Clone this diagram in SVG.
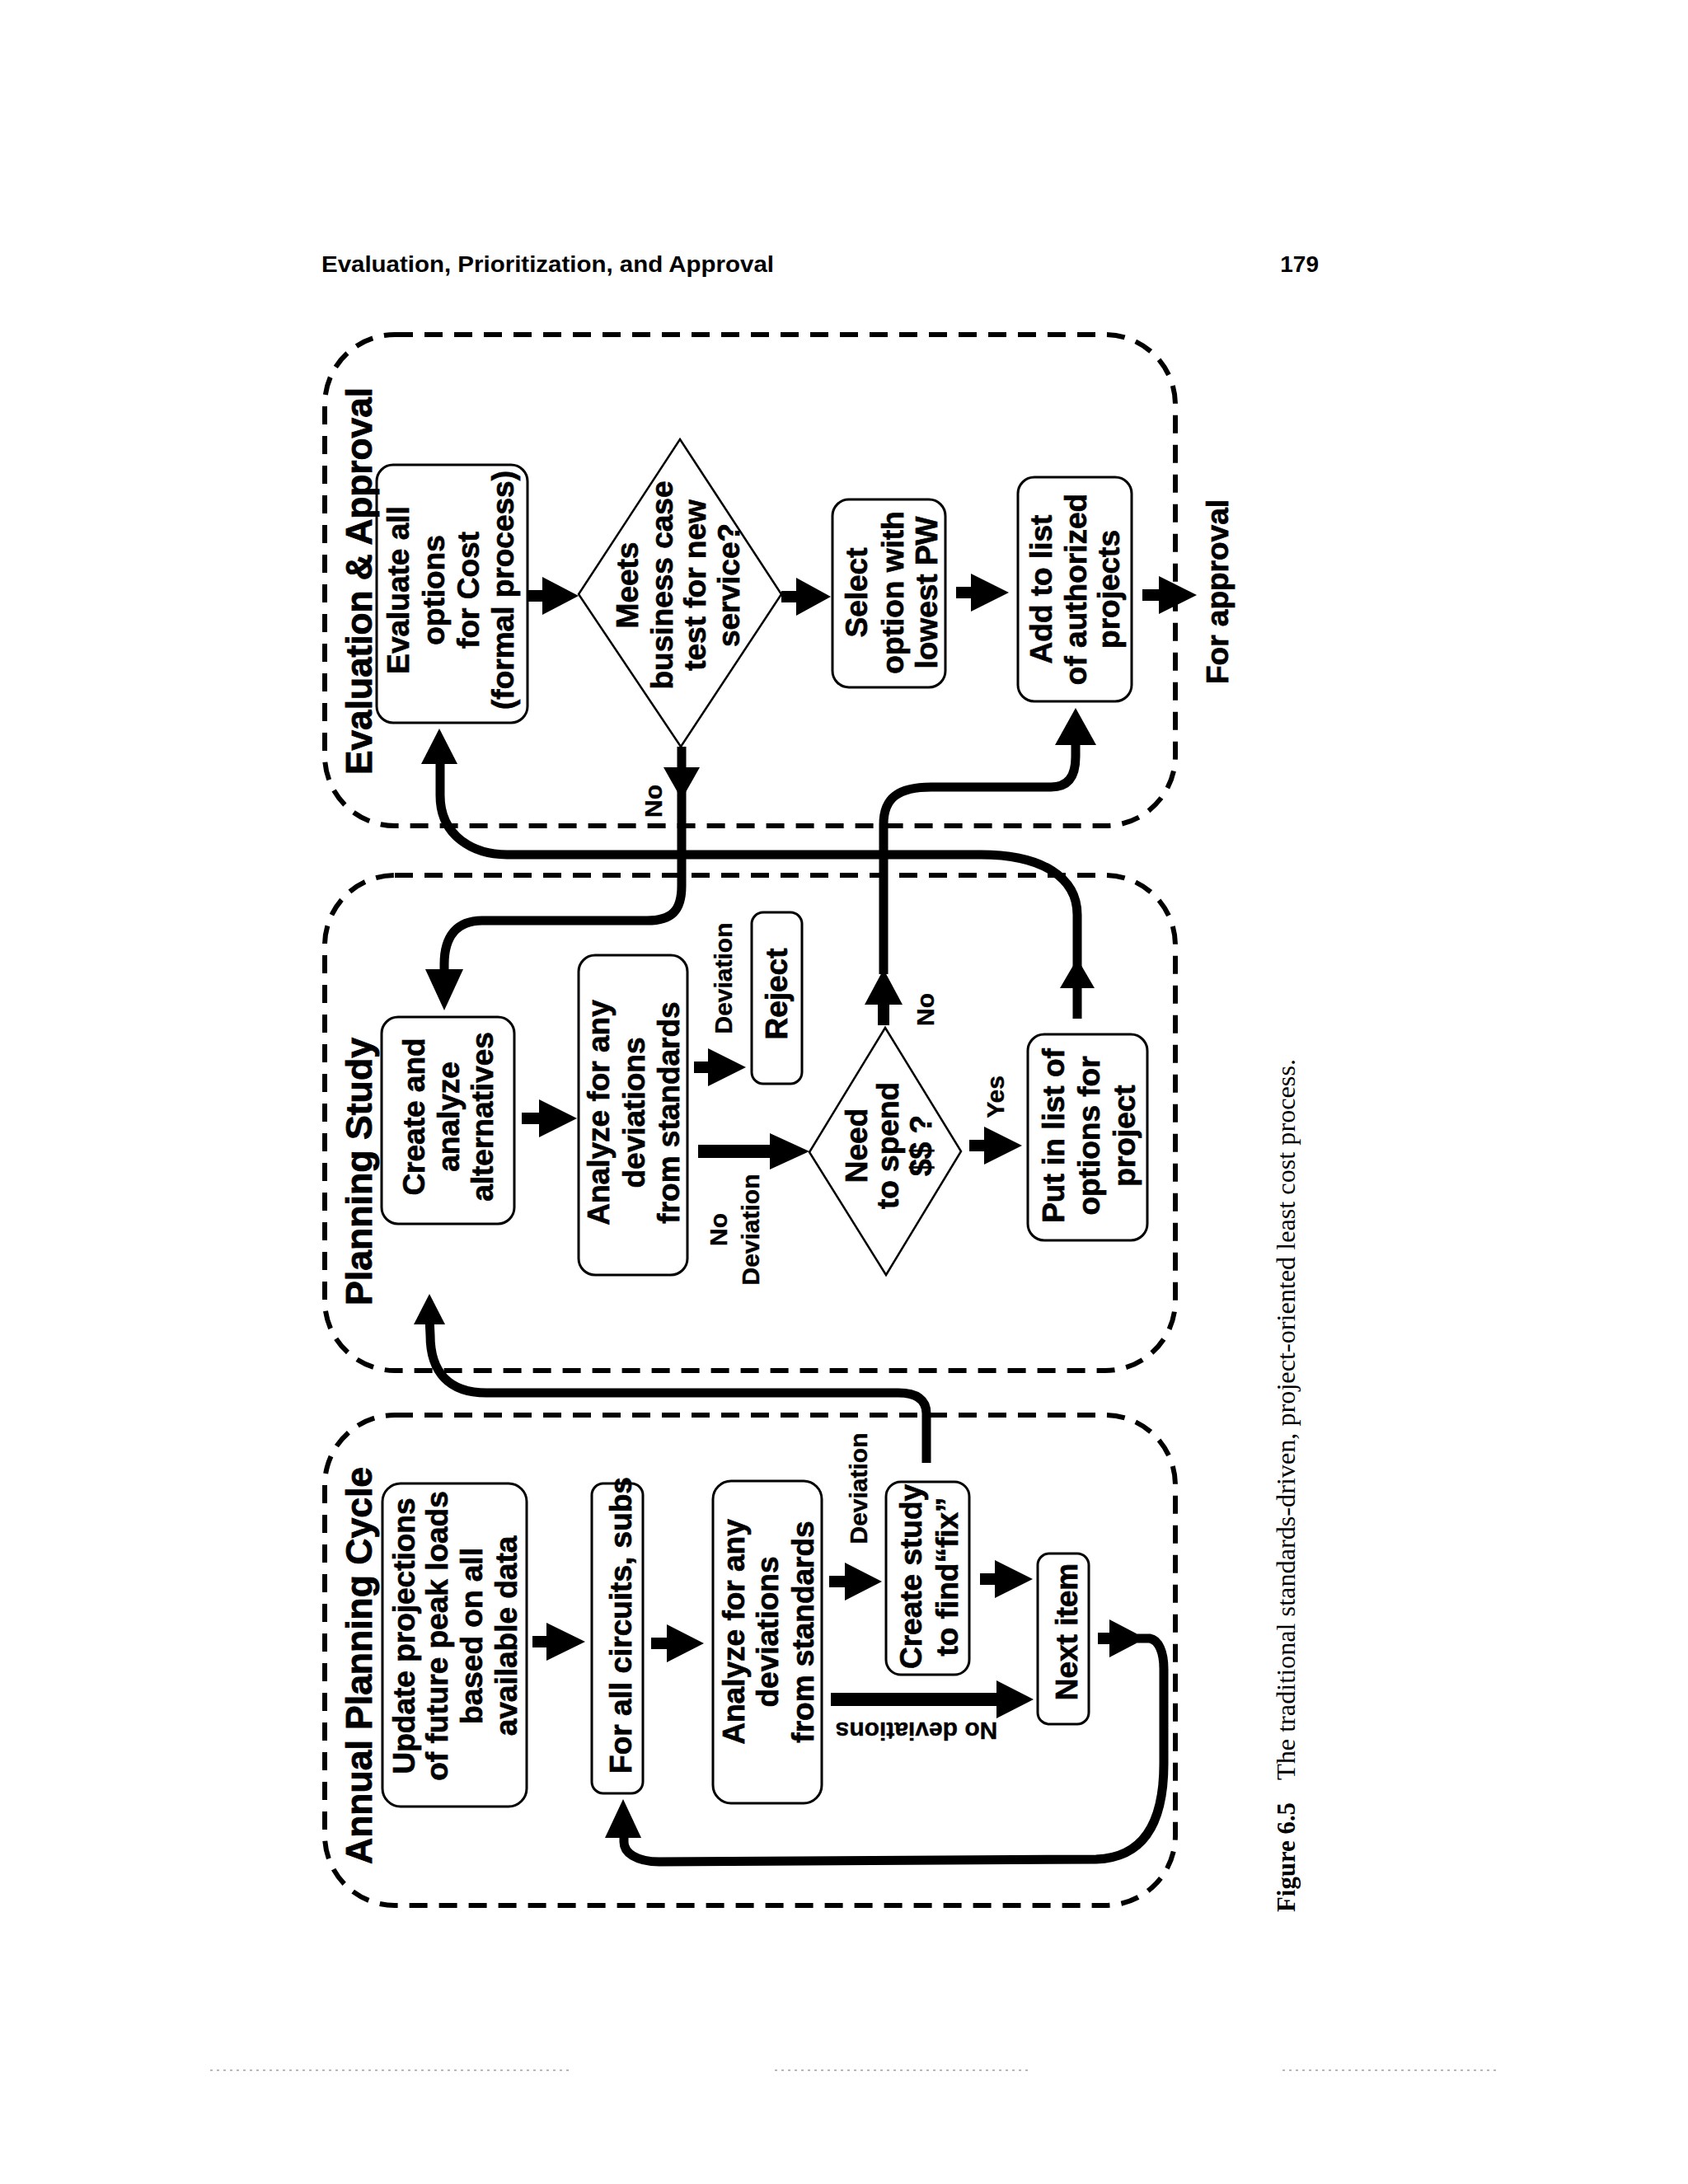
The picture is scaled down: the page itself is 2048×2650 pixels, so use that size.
<svg xmlns="http://www.w3.org/2000/svg" width="2048" height="2650" viewBox="0 0 2048 2650">
<style>
.bg{fill:#fff}
.dash{fill:none;stroke:#000;stroke-width:6;stroke-dasharray:22 14}
.box{fill:#fff;stroke:#000;stroke-width:3}
.dia{fill:#fff;stroke:#000;stroke-width:2.5}
.t{font-family:"Liberation Sans",Arial,Helvetica,sans-serif;font-weight:700;font-size:37px;text-anchor:middle;fill:#000;stroke:#000;stroke-width:0.7}
.lbl{font-size:30px;stroke-width:0.4}
.ttl{font-size:44px;text-anchor:start;stroke-width:0.9}
.hdr{font-family:"Liberation Sans",Arial,Helvetica,sans-serif;font-weight:700;font-size:28px;fill:#000}
.cap{font-family:"Liberation Serif","Times New Roman",serif;font-size:31px;fill:#000}
.con{fill:none;stroke:#000;stroke-width:11;stroke-linejoin:round}
.ah{fill:#000}
.scan{stroke:#9a9a9a;stroke-width:2;stroke-dasharray:3 5;opacity:.7}
</style>
<rect class="bg" x="0" y="0" width="2048" height="2650"/>

<g id="page-header">
<text class="hdr" x="390" y="330" textLength="549" lengthAdjust="spacingAndGlyphs">Evaluation, Prioritization, and Approval</text>
<text class="hdr" x="1600" y="330" text-anchor="end">179</text>
</g>

<g id="groups">
<g id="group-eval"><rect class="dash" x="394" y="406" width="1032" height="596" rx="85" ry="85"/></g>
<g id="group-planning"><rect class="dash" x="394" y="1062" width="1032" height="601" rx="85" ry="85"/></g>
<g id="group-annual"><rect class="dash" x="394" y="1717" width="1032" height="595" rx="85" ry="85"/></g>
</g>

<g id="connectors">
<path class="con" d="M827 906 L827 1075 C827 1105 815 1117 785 1117 L585 1117 C555 1117 539 1135 539 1170 L539 1182"/>
<path class="con" d="M1307 1236 L1307 1110 C1307 1065 1265 1037 1190 1037 L615 1037 C575 1037 534 1015 534 965 L534 922"/>
<path class="con" d="M1072 1182 L1072 1000 C1072 968 1090 955 1130 955 L1275 955 C1296 955 1305 942 1305 918 L1305 898"/>
<path class="con" d="M1124 1775 L1124 1715 C1124 1698 1112 1690 1090 1690 L590 1690 C545 1690 522 1665 522 1620 L521 1600"/>
<path class="con" d="M1380 1988 L1395 1988 C1406 1990 1412 2005 1412 2025 L1412 2140 C1412 2215 1385 2254 1330 2256 L800 2259 C772 2259 757 2248 757 2235 L757 2226"/>
<polygon class="ah" points="805,931 849,931 827,970"/>
<polygon class="ah" points="516,1176 562,1176 539,1226"/>
<polygon class="ah" points="511,927 555,927 533,884"/>
<polygon class="ah" points="1280,904 1330,904 1305,859"/>
<polygon class="ah" points="1286,1199 1328,1199 1307,1163"/>
<polygon class="ah" points="502,1607 540,1607 521,1570"/>
<polygon class="ah" points="734,2230 778,2230 756,2183"/>
<polygon class="ah" points="640,716 658,716 658,700 702,723 658,746 658,730 640,730"/>
<polygon class="ah" points="948,717 966,717 966,701 1008,724 966,747 966,731 948,731"/>
<polygon class="ah" points="1160,712 1178,712 1178,696 1224,719 1178,742 1178,726 1160,726"/>
<polygon class="ah" points="1386,715 1406,715 1406,699 1452,722 1406,745 1406,729 1386,729"/>
<polygon class="ah" points="633,1350 654,1350 654,1334 700,1357 654,1380 654,1364 633,1364"/>
<polygon class="ah" points="842,1288 859,1288 859,1272 905,1295 859,1318 859,1302 842,1302"/>
<polygon class="ah" points="847,1389 934,1389 934,1375 982,1397 934,1419 934,1405 847,1405"/>
<polygon class="ah" points="1176,1383 1194,1383 1194,1367 1240,1390 1194,1413 1194,1397 1176,1397"/>
<polygon class="ah" points="1065,1244 1065,1219 1049,1219 1072,1176 1095,1219 1079,1219 1079,1244"/>
<polygon class="ah" points="646,1985 663,1985 663,1969 710,1992 663,2015 663,1999 646,1999"/>
<polygon class="ah" points="790,1987 809,1987 809,1971 854,1994 809,2017 809,2001 790,2001"/>
<polygon class="ah" points="1006,1912 1025,1912 1025,1896 1070,1919 1025,1942 1025,1926 1006,1926"/>
<polygon class="ah" points="1008,2054 1209,2054 1209,2039 1254,2062 1209,2085 1209,2070 1008,2070"/>
<polygon class="ah" points="1189,1909 1207,1909 1207,1893 1253,1916 1207,1939 1207,1923 1189,1923"/>
<polygon class="ah" points="1332,1981 1346,1981 1346,1965 1390,1988 1346,2011 1346,1995 1332,1995"/>
</g>

<g id="node-eval-options">
<rect class="box" x="457" y="564" width="183" height="313" rx="20"/>
<text class="t" transform="translate(496,716) rotate(-90)">Evaluate all</text>
<text class="t" transform="translate(539,716) rotate(-90)">options</text>
<text class="t" transform="translate(581,716) rotate(-90)">for Cost</text>
<text class="t" transform="translate(623,716) rotate(-90)">(formal process)</text>
</g>
<g id="node-business-case">
<polygon class="dia" points="825,533 948,721 826,906 702,721"/>
<text class="t" transform="translate(774,710) rotate(-90)">Meets</text>
<text class="t" transform="translate(816,710) rotate(-90)">business case</text>
<text class="t" transform="translate(856,710) rotate(-90)">test for new</text>
<text class="t" transform="translate(897,710) rotate(-90)">service?</text>
</g>
<g id="node-select">
<rect class="box" x="1010" y="606" width="137" height="228" rx="20"/>
<text class="t" transform="translate(1052,719) rotate(-90)">Select</text>
<text class="t" transform="translate(1096,719) rotate(-90)">option with</text>
<text class="t" transform="translate(1137,719) rotate(-90)">lowest PW</text>
</g>
<g id="node-add-list">
<rect class="box" x="1235" y="579" width="138" height="272" rx="20"/>
<text class="t" transform="translate(1276,715) rotate(-90)">Add to list</text>
<text class="t" transform="translate(1318,715) rotate(-90)">of authorized</text>
<text class="t" transform="translate(1358,715) rotate(-90)">projects</text>
</g>
<g id="label-for-approval">
<text class="t" transform="translate(1490,718) rotate(-90)">For approval</text>
</g>

<g id="node-create-alternatives">
<rect class="box" x="463" y="1234" width="161" height="251" rx="20"/>
<text class="t" transform="translate(515,1355) rotate(-90)">Create and</text>
<text class="t" transform="translate(557,1355) rotate(-90)">analyze</text>
<text class="t" transform="translate(598,1355) rotate(-90)">alternatives</text>
</g>
<g id="node-analyze-planning">
<rect class="box" x="702" y="1159" width="132" height="388" rx="20"/>
<text class="t" transform="translate(739,1350) rotate(-90)">Analyze for any</text>
<text class="t" transform="translate(782,1350) rotate(-90)">deviations</text>
<text class="t" transform="translate(824,1350) rotate(-90)">from standards</text>
</g>
<g id="node-reject">
<rect class="box" x="912" y="1107" width="61" height="208" rx="14"/>
<text class="t" transform="translate(955,1206) rotate(-90)">Reject</text>
</g>
<g id="node-need-spend">
<polygon class="dia" points="1074,1247 1166,1397 1075,1547 982,1398"/>
<text class="t" transform="translate(1052,1390) rotate(-90)">Need</text>
<text class="t" transform="translate(1090,1390) rotate(-90)">to spend</text>
<text class="t" transform="translate(1130,1390) rotate(-90)">$$ ?</text>
</g>
<g id="node-put-list">
<rect class="box" x="1247" y="1255" width="145" height="250" rx="20"/>
<text class="t" transform="translate(1291,1378) rotate(-90)">Put in list of</text>
<text class="t" transform="translate(1334,1378) rotate(-90)">options for</text>
<text class="t" transform="translate(1377,1378) rotate(-90)">project</text>
</g>

<g id="node-update-projections">
<rect class="box" x="464" y="1800" width="175" height="392" rx="22"/>
<text class="t" transform="translate(503,1985) rotate(-90)">Update projections</text>
<text class="t" transform="translate(543,1985) rotate(-90)">of future peak loads</text>
<text class="t" transform="translate(585,1985) rotate(-90)">based on all</text>
<text class="t" transform="translate(627,1985) rotate(-90)">available data</text>
</g>
<g id="node-for-all">
<rect class="box" x="718" y="1800" width="62" height="376" rx="14"/>
<text class="t" transform="translate(766,1972) rotate(-90)">For all circuits, subs</text>
</g>
<g id="node-analyze-annual">
<rect class="box" x="865" y="1797" width="132" height="391" rx="22"/>
<text class="t" transform="translate(903,1980) rotate(-90)">Analyze for any</text>
<text class="t" transform="translate(944,1980) rotate(-90)">deviations</text>
<text class="t" transform="translate(987,1980) rotate(-90)">from standards</text>
</g>
<g id="node-create-study">
<rect class="box" x="1075" y="1798" width="101" height="234" rx="18"/>
<text class="t" transform="translate(1118,1913) rotate(-90)">Create study</text>
<text class="t" transform="translate(1162,1913) rotate(-90)">to find“fix”</text>
</g>
<g id="node-next-item">
<rect class="box" x="1259" y="1885" width="62" height="207" rx="14"/>
<text class="t" transform="translate(1307,1980) rotate(-90)">Next item</text>
</g>

<g id="labels">
<text class="t lbl" transform="translate(803,972) rotate(-90)">No</text>
<text class="t lbl" transform="translate(888,1187) rotate(-90)">Deviation</text>
<text class="t lbl" transform="translate(882,1492) rotate(-90)">No</text>
<text class="t lbl" transform="translate(921,1492) rotate(-90)">Deviation</text>
<text class="t lbl" transform="translate(1133,1225) rotate(-90)">No</text>
<text class="t lbl" transform="translate(1218,1331) rotate(-90)">Yes</text>
<text class="t lbl" transform="translate(1052,1806) rotate(-90)">Deviation</text>
<text class="t lbl" transform="translate(1112,2090) rotate(180)">No deviations</text>
</g>

<g id="group-titles">
<text class="t ttl" transform="translate(451,940) rotate(-90)" textLength="470" lengthAdjust="spacingAndGlyphs">Evaluation &amp; Approval</text>
<text class="t ttl" transform="translate(451,1584) rotate(-90)" textLength="325" lengthAdjust="spacingAndGlyphs">Planning Study</text>
<text class="t ttl" transform="translate(451,2262) rotate(-90)" textLength="482" lengthAdjust="spacingAndGlyphs">Annual Planning Cycle</text>
</g>

<g id="caption">
<text class="cap" transform="translate(1571,2320) rotate(-90)" font-weight="700" textLength="133" lengthAdjust="spacingAndGlyphs">Figure 6.5</text>
<text class="cap" transform="translate(1571,2160) rotate(-90)" textLength="875" lengthAdjust="spacingAndGlyphs">The traditional standards-driven, project-oriented least cost process.</text>
</g>

<g id="scan-artifacts">
<line class="scan" x1="255" y1="2512" x2="690" y2="2512"/>
<line class="scan" x1="940" y1="2512" x2="1250" y2="2512"/>
<line class="scan" x1="1556" y1="2512" x2="1820" y2="2512"/>
</g>
</svg>
